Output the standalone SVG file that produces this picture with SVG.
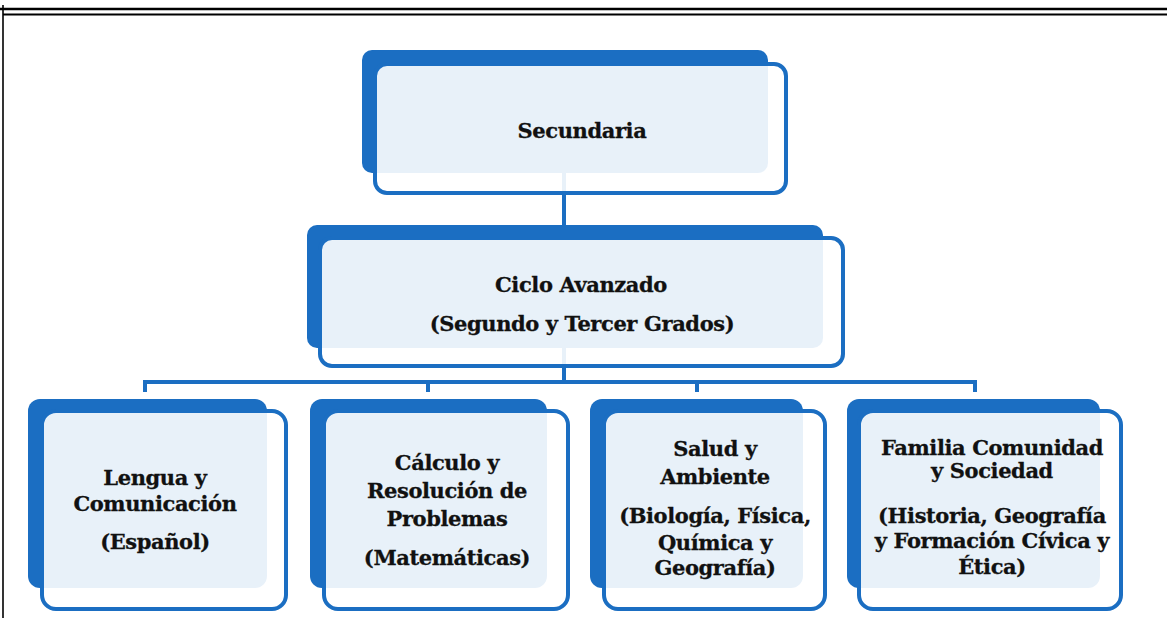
<svg xmlns="http://www.w3.org/2000/svg" width="1167" height="618" viewBox="0 0 1167 618">
<style>
.back{fill:#1b6ec2}
.front{fill:#ffffff;fill-opacity:0.9;stroke:#1b6ec2;stroke-width:4}
.conn{fill:none;stroke:#1b6ec2;stroke-width:4}
.t{font-family:"DejaVu Serif","Liberation Serif",serif;font-weight:bold;font-size:21px;letter-spacing:-0.4px;fill:#111;stroke:#111;stroke-width:0.3;text-anchor:middle}
.frame{stroke:#000;fill:none}
</style>
<rect width="1167" height="618" fill="#ffffff"/>
<g id="frame">
<line class="frame" x1="0" y1="9" x2="1167" y2="9" stroke-width="2.5"/>
<line class="frame" x1="3" y1="14.5" x2="1167" y2="14.5" stroke-width="2"/>
<line class="frame" x1="3" y1="5" x2="3" y2="618" stroke-width="1.6"/>
</g>
<g id="connectors">
<path class="conn" d="M564,173 V225"/>
<path class="conn" d="M564,348 V382"/>
<path class="conn" d="M145,392 V382 H975 V392"/>
<path class="conn" d="M428,382 V392"/>
<path class="conn" d="M697,382 V392"/>
</g>
<g id="secundaria">
<rect class="back" x="362" y="50" width="406" height="123" rx="10"/>
<rect class="front" x="375" y="64" width="411" height="129" rx="12"/>
<text class="t" x="582" y="138">Secundaria</text>
</g>
<g id="ciclo">
<rect class="back" x="307" y="225" width="516" height="123" rx="10"/>
<rect class="front" x="320" y="238" width="523" height="128" rx="12"/>
<text class="t" x="581" y="292">Ciclo Avanzado</text>
<text class="t" x="582" y="331">(Segundo y Tercer Grados)</text>
</g>
<g id="lengua">
<rect class="back" x="28" y="399" width="239" height="189" rx="12"/>
<rect class="front" x="42" y="411" width="244" height="198" rx="14"/>
<text class="t" x="155" y="485">Lengua y</text>
<text class="t" x="155" y="511">Comunicación</text>
<text class="t" x="155" y="549">(Español)</text>
</g>
<g id="calculo">
<rect class="back" x="310" y="399" width="237" height="189" rx="12"/>
<rect class="front" x="324" y="411" width="244" height="198" rx="14"/>
<text class="t" x="447" y="470">Cálculo y</text>
<text class="t" x="447" y="498">Resolución de</text>
<text class="t" x="447" y="526">Problemas</text>
<text class="t" x="447" y="565">(Matemáticas)</text>
</g>
<g id="salud">
<rect class="back" x="590" y="399" width="213" height="189" rx="12"/>
<rect class="front" x="604" y="411" width="221" height="198" rx="14"/>
<text class="t" x="715" y="456">Salud y</text>
<text class="t" x="715" y="484">Ambiente</text>
<text class="t" x="715" y="523">(Biología, Física,</text>
<text class="t" x="715" y="550">Química y</text>
<text class="t" x="715" y="575">Geografía)</text>
</g>
<g id="familia">
<rect class="back" x="847" y="399" width="253" height="189" rx="12"/>
<rect class="front" x="859" y="411" width="262" height="198" rx="14"/>
<text class="t" x="992" y="455">Familia Comunidad</text>
<text class="t" x="992" y="478">y Sociedad</text>
<text class="t" x="992" y="523">(Historia, Geografía</text>
<text class="t" x="992" y="548">y Formación Cívica y</text>
<text class="t" x="992" y="574">Ética)</text>
</g>
</svg>
